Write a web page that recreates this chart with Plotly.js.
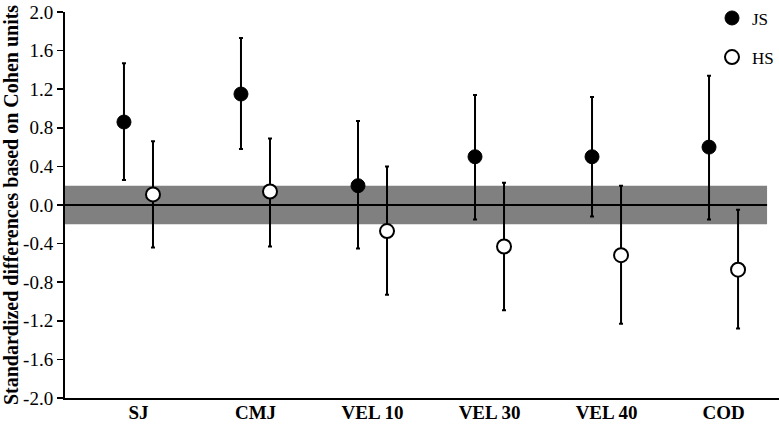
<!DOCTYPE html>
<html>
<head>
<meta charset="utf-8">
<script src="https://cdn.plot.ly/plotly-3.0.1.min.js"></script>
<style>html,body{margin:0;padding:0;background:#fff;}#chart{width:779px;height:424px;}</style>
</head>
<body>
<div id="chart"></div>
<script>
// Data
const categories = ["SJ", "CMJ", "VEL 10", "VEL 30", "VEL 40", "COD"];
const jsMean  = [0.86, 1.15, 0.20, 0.50, 0.50, 0.60];
const jsUpper = [1.47, 1.73, 0.87, 1.14, 1.12, 1.34];
const jsLower = [0.26, 0.58, -0.45, -0.15, -0.12, -0.15];
const hsMean  = [0.11, 0.14, -0.27, -0.43, -0.52, -0.67];
const hsUpper = [0.66, 0.69, 0.40, 0.23, 0.20, -0.05];
const hsLower = [-0.44, -0.43, -0.93, -1.09, -1.23, -1.28];
const yTicks = [-2.0, -1.6, -1.2, -0.8, -0.4, 0.0, 0.4, 0.8, 1.2, 1.6, 2.0];
const trivialBand = [-0.2, 0.2];

const off = 0.124;
const idx = categories.map((c, i) => i);
const font = "Liberation Serif, Times New Roman, serif";

function errs(mean, up, lo) {
  return {
    type: "data", symmetric: false,
    array: mean.map((m, i) => up[i] - m),
    arrayminus: mean.map((m, i) => m - lo[i]),
    color: "#000", thickness: 2, width: 2
  };
}

const traces = [
  {
    x: idx.map(i => i - off), y: jsMean, name: "JS", type: "scatter", mode: "markers",
    legendgroup: "a",
    marker: {symbol: "circle", size: 14, color: "#000", line: {color: "#000", width: 1}},
    error_y: errs(jsMean, jsUpper, jsLower)
  },
  {
    x: idx.map(i => i + off), y: hsMean, name: "HS", type: "scatter", mode: "markers",
    legendgroup: "b",
    marker: {symbol: "circle", size: 14, color: "#fff", line: {color: "#000", width: 2}},
    error_y: errs(hsMean, hsUpper, hsLower)
  }
];

const xr = [-0.628, 5.474];
const layout = {
  width: 779, height: 424,
  margin: {l: 65, r: 0, t: 9.5, b: 26},
  paper_bgcolor: "#fff", plot_bgcolor: "#fff",
  font: {family: font, color: "#000"},
  showlegend: true,
  legend: {
    x: 1, xanchor: "right", y: 1.03, yanchor: "top",
    font: {family: font, size: 17, color: "#000"},
    itemwidth: 30, tracegroupgap: 14, bgcolor: "rgba(0,0,0,0)"
  },
  xaxis: {
    range: xr, showgrid: false, zeroline: false,
    tickvals: idx, ticktext: categories.map(c => "<b>" + c + "</b>"),
    ticks: "", tickfont: {family: font, size: 19, color: "#000"},
    ticklabelstandoff: -4,
    showline: true, linecolor: "#000", linewidth: 2
  },
  yaxis: {
    range: [-2.0, 2.0], tickvals: yTicks, ticktext: yTicks.map(v => v.toFixed(1)),
    showgrid: false, zeroline: false,
    ticks: "outside", ticklen: 6, tickwidth: 1.5, tickcolor: "#000",
    tickfont: {family: font, size: 19, color: "#000"},
    showline: true, linecolor: "#000", linewidth: 2,
    title: {text: "<b>Standardized differences based on Cohen units</b>", font: {family: font, size: 20, color: "#000"}, standoff: 4}
  },
  shapes: [
    {type: "rect", xref: "x", yref: "y", x0: xr[0], x1: 5.372, y0: trivialBand[0], y1: trivialBand[1],
     fillcolor: "#808080", line: {width: 0}, layer: "below"},
    {type: "line", xref: "x", yref: "y", x0: xr[0], x1: 5.372, y0: 0, y1: 0,
     line: {color: "#000", width: 2}, layer: "below"}
  ]
};

Plotly.newPlot("chart", traces, layout, {displayModeBar: false, staticPlot: true});
</script>
</body>
</html>
